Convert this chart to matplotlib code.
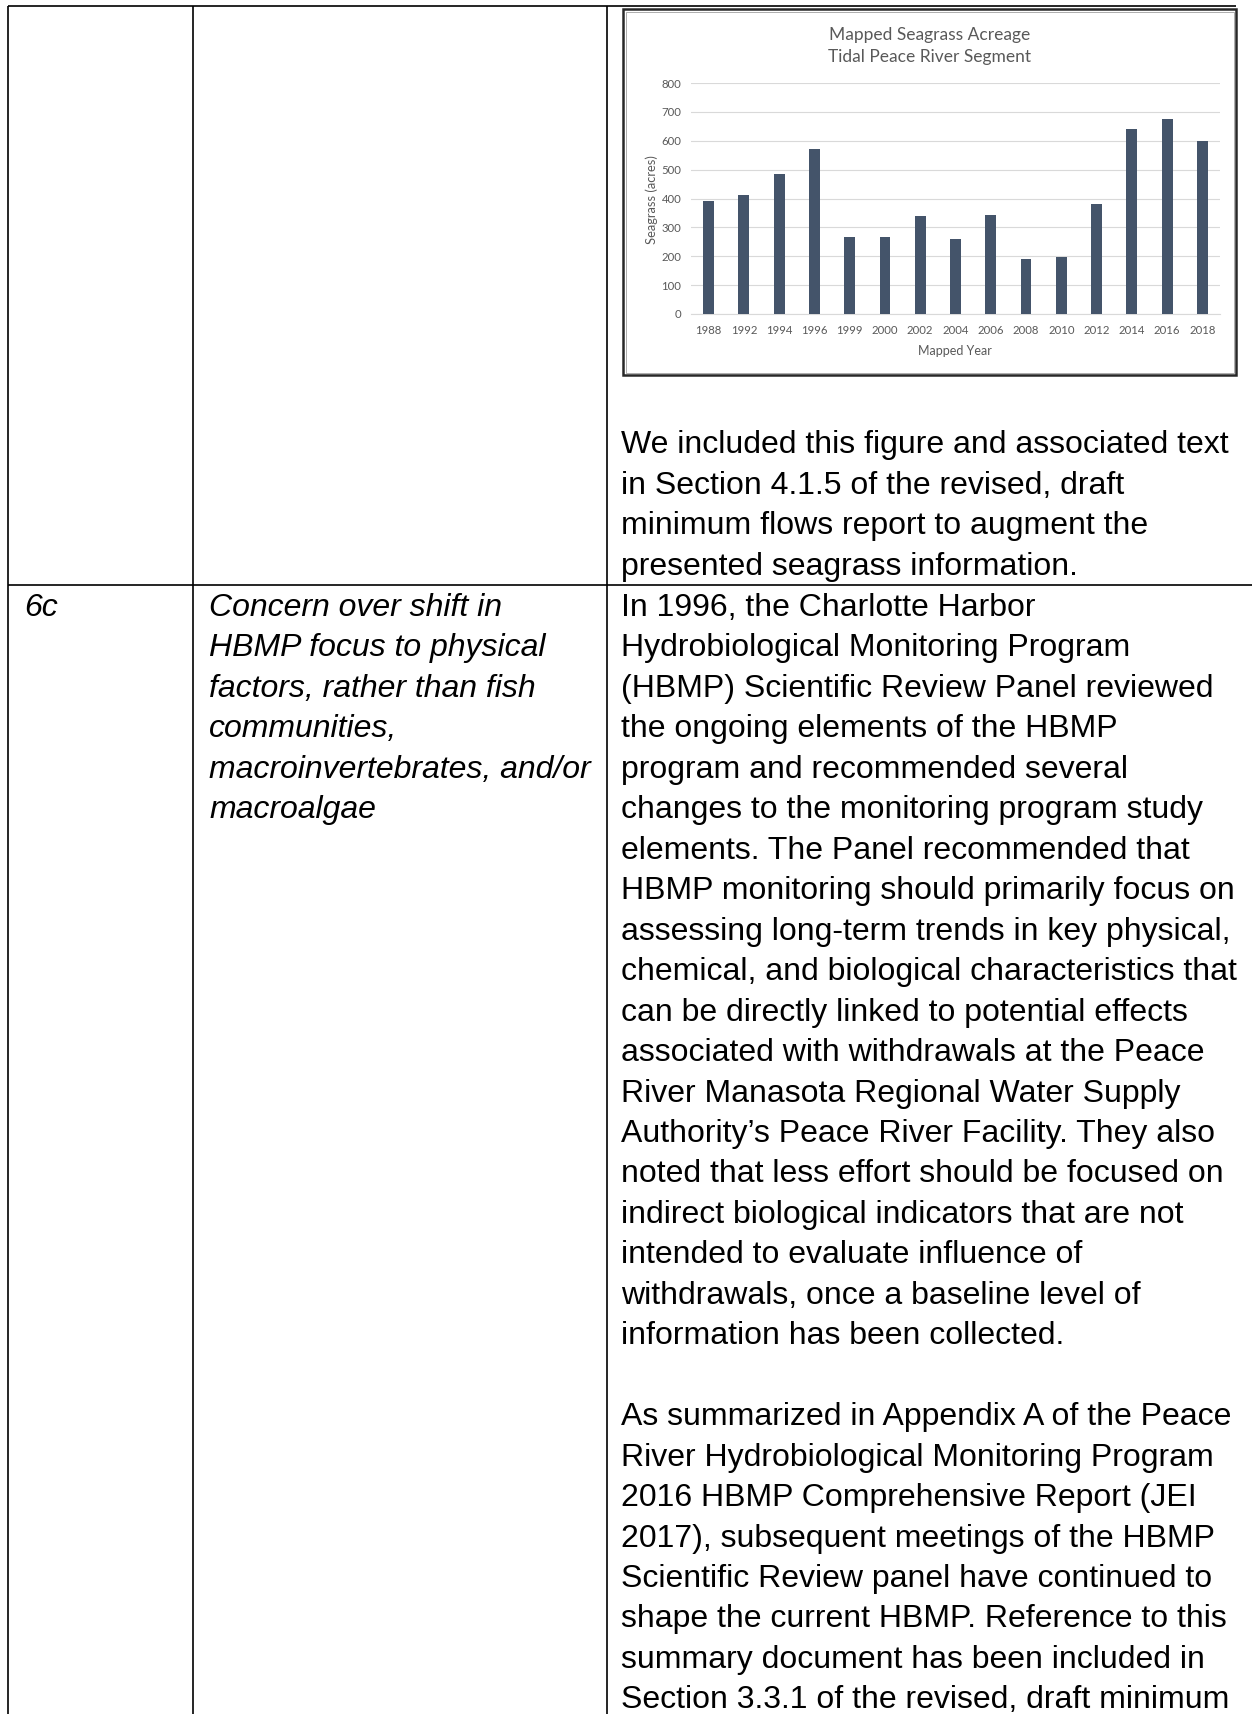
import matplotlib.pyplot as plt
from matplotlib.patches import Rectangle

# seagrass acreage by mapped year
years = ['1988', '1992', '1994', '1996', '1999', '2000', '2002', '2004',
         '2006', '2008', '2010', '2012', '2014', '2016', '2018']
acres = [393, 413, 486, 573, 268, 268, 341, 261, 344, 192, 199, 382, 639, 677, 600]

chart_title = ['Mapped Seagrass Acreage', 'Tidal Peace River Segment']

row_id = ['6c']
comment_lines = [
    'Concern over shift in',
    'HBMP focus to physical',
    'factors, rather than fish',
    'communities,',
    'macroinvertebrates, and/or',
    'macroalgae',
]
reply_top = [
    'We included this figure and associated text',
    'in Section 4.1.5 of the revised, draft',
    'minimum flows report to augment the',
    'presented seagrass information.',
]
reply_lines = [
    'In 1996, the Charlotte Harbor',
    'Hydrobiological Monitoring Program',
    '(HBMP) Scientific Review Panel reviewed',
    'the ongoing elements of the HBMP',
    'program and recommended several',
    'changes to the monitoring program study',
    'elements. The Panel recommended that',
    'HBMP monitoring should primarily focus on',
    'assessing long-term trends in key physical,',
    'chemical, and biological characteristics that',
    'can be directly linked to potential effects',
    'associated with withdrawals at the Peace',
    'River Manasota Regional Water Supply',
    'Authority\u2019s Peace River Facility. They also',
    'noted that less effort should be focused on',
    'indirect biological indicators that are not',
    'intended to evaluate influence of',
    'withdrawals, once a baseline level of',
    'information has been collected.',
    '',
    'As summarized in Appendix A of the Peace',
    'River Hydrobiological Monitoring Program',
    '2016 HBMP Comprehensive Report (JEI',
    '2017), subsequent meetings of the HBMP',
    'Scientific Review panel have continued to',
    'shape the current HBMP. Reference to this',
    'summary document has been included in',
    'Section 3.3.1 of the revised, draft minimum',
]

W, H = 1252, 1714
BODY = 'Liberation Sans'
CHART = 'Lato'
GREY = '#595959'
LINE_H = 40.46

fig = plt.figure(figsize=(W / 100, H / 100), dpi=100)

# whole page in pixel units, y going down
page = fig.add_axes([0, 0, 1, 1])
page.set_xlim(0, W)
page.set_ylim(H, 0)
page.axis('off')


def px_axes(x0, y0, x1, y1):
    return fig.add_axes([x0 / W, 1 - y1 / H, (x1 - x0) / W, (y1 - y0) / H])


# table rules
rule = dict(color='black', lw=1.2, solid_capstyle='butt')
page.plot([8, 1236], [6, 6], **rule)
page.plot([8, W], [585, 585], **rule)
for x in (8, 193, 607):
    page.plot([x, x], [6, H], **rule)

# chart frame
page.add_patch(Rectangle((623, 9), 613, 366, fill=False, ec='#282828', lw=1.8))
page.add_patch(Rectangle((625.5, 11.5), 608, 361, fill=False, ec='#a0a0a0', lw=0.6))

# cell text
body = dict(fontsize=23.0, family=BODY, va='baseline', ha='left', color='black')
for i, s in enumerate(reply_top):
    page.text(621, 453.2 + i * LINE_H, s, **body)
base = 616
page.text(24, base, row_id[0], style='italic', **body)
for i, s in enumerate(comment_lines):
    page.text(209, base + i * LINE_H, s, style='italic', **body)
for i, s in enumerate(reply_lines):
    page.text(621, base + i * LINE_H, s, **body)

# chart titles and axis labels
for y, s in zip((34.5, 57), chart_title):
    page.text(929.5, y, s, fontsize=12.5, family=CHART, color=GREY, ha='center', va='center')
page.text(955, 350.5, 'Mapped Year', fontsize=9.0, family=CHART, color=GREY, ha='center', va='center')
page.text(651.5, 200, 'Seagrass (acres)', fontsize=9.3, family=CHART, color=GREY,
          ha='center', va='center', rotation=90)

# bar chart
ax = px_axes(691, 83, 1220, 314)
x = range(len(years))
ax.bar(x, acres, width=0.31, color='#44546A', zorder=3)
ax.set_xlim(-0.5, len(years) - 0.5)
ax.set_ylim(0, 800)
ax.set_yticks(range(0, 801, 100))
ax.set_xticks(list(x), years)
ax.grid(axis='y', color='#D9D9D9', lw=0.8, zorder=0)
for side in ('top', 'left', 'right'):
    ax.spines[side].set_visible(False)
ax.spines['bottom'].set_color('#D9D9D9')
ax.spines['bottom'].set_linewidth(0.8)
ax.tick_params(length=0, labelsize=8.2, labelcolor=GREY)
ax.tick_params(axis='x', pad=8)
ax.tick_params(axis='y', pad=7)
for lab in ax.get_xticklabels() + ax.get_yticklabels():
    lab.set_family(CHART)

fig.savefig('out.png', dpi=100)
